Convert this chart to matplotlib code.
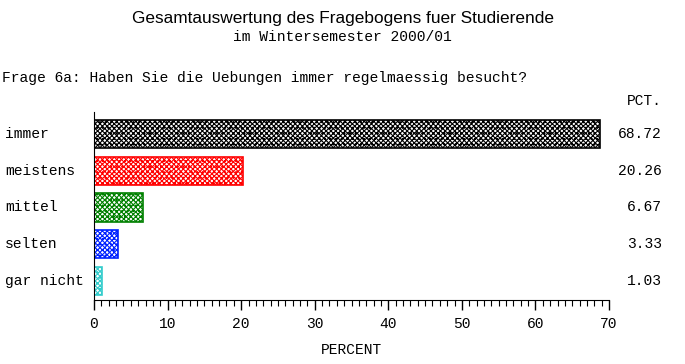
import matplotlib
matplotlib.use("Agg")
import matplotlib.pyplot as plt
from matplotlib.ticker import MultipleLocator

categories = ["immer", "meistens", "mittel", "selten", "gar nicht"]
percent = [68.72, 20.26, 6.67, 3.33, 1.03]
colors = ["#000000", "#ff0000", "#008000", "#0022ff", "#33cccc"]

mono = "Liberation Mono"
plt.rcParams["hatch.linewidth"] = 0.8

fig = plt.figure(figsize=(6.85, 3.64), dpi=100)
ax = fig.add_axes([94 / 685, 1 - 300 / 364, (609 - 94) / 685, (300 - 112) / 364])

ypos = list(range(len(categories)))
for y, v, c in zip(ypos, percent, colors):
    ax.barh(y, v, height=0.77, color="white", edgecolor=c, hatch="xxxxxxx...", linewidth=1.2)

ax.set_xlim(0, 70)
ax.set_ylim(len(categories) - 0.5 + 0.02, -0.5 - 0.1)
ax.spines["top"].set_visible(False)
ax.spines["right"].set_visible(False)
ax.set_yticks([])
ax.xaxis.set_major_locator(MultipleLocator(10))
ax.xaxis.set_minor_locator(MultipleLocator(1))
ax.tick_params(axis="x", which="major", length=7, width=1, pad=5)
ax.tick_params(axis="x", which="minor", length=4, width=0.8)
for lab in ax.get_xticklabels():
    lab.set_fontfamily(mono)
    lab.set_fontsize(10.5)
ax.set_xlabel("PERCENT", fontfamily=mono, fontsize=10.5, labelpad=9)

for y, name, v in zip(ypos, categories, percent):
    ax.text(-94 / 515 * 70 + 5 / 515 * 70, y, name, ha="left", va="center",
            fontfamily=mono, fontsize=10.5, clip_on=False)
    ax.text(662 / 515 * 70 - 94 / 515 * 70, y, f"{v:.2f}", ha="right", va="center",
            fontfamily=mono, fontsize=10.5, clip_on=False)

fig.text(662 / 685, 1 - 101 / 364, "PCT.", ha="right", va="center", fontfamily=mono, fontsize=10.5)
fig.text(0.5, 1 - 18 / 364, "Gesamtauswertung des Fragebogens fuer Studierende",
         ha="center", va="center", fontfamily="Liberation Sans", fontsize=12.4)
fig.text(0.5, 1 - 37 / 364, "im Wintersemester 2000/01", ha="center", va="center",
         fontfamily=mono, fontsize=10.5)
fig.text(2 / 685, 1 - 78 / 364, "Frage 6a: Haben Sie die Uebungen immer regelmaessig besucht?",
         ha="left", va="center", fontfamily=mono, fontsize=10.5)

fig.savefig("out.png", dpi=100)
